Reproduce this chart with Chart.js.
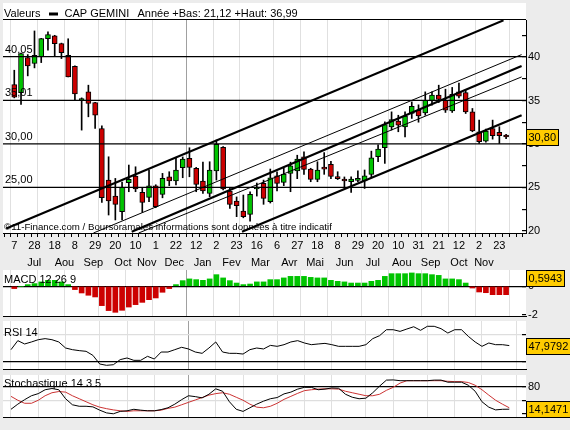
<!DOCTYPE html>
<html>
<head>
<meta charset="utf-8">
<script src="https://cdn.jsdelivr.net/npm/chart.js@4.4.1/dist/chart.umd.min.js"></script>
<style>
  html, body { margin: 0; padding: 0; background: #ececec; }
  #wrap { position: relative; width: 570px; height: 430px; }
  canvas { position: absolute; left: 0; top: 0; }
</style>
</head>
<body>
<div id="wrap">
  <canvas id="main" width="570" height="430"></canvas>
  <canvas id="macd" width="570" height="430"></canvas>
  <canvas id="rsi" width="570" height="430"></canvas>
  <canvas id="stoch" width="570" height="430"></canvas>
</div>
<script>
// weekly candles, week 0 = 7 Jul 2008 ... week 73 = 30 Nov 2009
var opens  = [36.83,35.91,39.94,39.25,40.05,42.12,42.43,41.54,40.20,38.94,35.00,35.99,34.77,31.78,25.84,24.00,22.20,25.54,26.30,24.42,
              23.85,25.19,24.20,26.22,25.73,27.26,28.33,27.18,25.73,24.31,26.88,29.60,24.58,23.43,22.28,21.90,24.81,25.46,23.35,26.34,
              25.57,26.61,26.88,28.52,27.10,25.92,27.20,27.64,26.05,25.96,25.65,25.80,25.73,26.49,28.52,29.56,31.97,32.62,31.97,33.50,
              33.88,33.58,34.96,35.61,35.03,33.80,35.99,35.90,33.69,31.40,30.32,31.78,31.32,31.00];
var highs  = [38.48,40.45,40.28,43.00,42.15,42.90,42.50,41.60,42.10,39.00,35.30,36.76,34.80,32.08,28.52,26.03,25.60,27.57,27.37,24.90,
              26.99,25.30,26.61,26.80,28.33,28.50,29.56,27.30,27.90,27.95,30.44,29.70,24.90,23.90,24.12,24.50,25.50,25.84,27.11,26.80,
              27.20,27.90,28.70,29.10,27.20,27.95,29.00,28.00,26.80,26.20,26.20,26.90,27.00,29.17,29.90,32.54,33.69,33.30,33.69,34.84,
              34.50,35.99,35.99,36.76,36.30,36.50,36.99,36.20,34.08,32.74,31.70,32.74,31.98,31.10];
var lows   = [35.30,34.54,37.83,38.75,39.36,40.78,40.13,39.82,37.71,35.03,31.59,33.12,31.78,23.28,21.82,21.25,21.25,24.50,24.50,22.13,
              23.35,22.66,23.80,25.20,25.27,26.11,26.22,24.50,24.30,23.93,25.84,24.70,22.59,21.63,21.50,21.12,24.00,23.05,23.20,24.60,
              25.20,24.50,26.00,26.50,25.65,25.65,26.50,26.00,25.90,24.90,24.42,25.65,24.88,26.20,27.95,27.76,31.60,31.40,30.82,32.93,
              32.50,33.30,34.46,34.76,33.62,33.62,35.30,33.50,31.40,30.05,30.20,30.55,30.05,30.60];
var closes = [35.38,40.40,38.98,40.20,42.12,42.58,41.54,40.51,37.71,35.76,35.23,34.65,33.31,23.81,23.43,23.05,25.00,25.92,24.81,23.28,
              25.19,22.78,26.03,25.73,26.99,28.25,27.30,25.34,24.58,26.99,29.94,24.81,23.05,22.89,21.63,24.20,25.04,23.74,26.11,25.46,
              26.53,27.49,28.25,27.07,25.92,26.99,27.10,26.26,26.00,25.73,25.96,26.03,26.34,28.41,29.40,32.24,32.81,32.16,33.20,34.34,
              33.23,35.03,35.61,35.11,33.88,35.72,35.50,33.69,31.51,30.25,31.47,30.94,30.94,30.80];

var macd = [-0.16,0.00,0.12,0.19,0.31,0.42,0.42,0.31,0.12,-0.23,-0.47,-0.63,-0.75,-1.36,-1.71,-1.83,-1.69,-1.46,-1.29,-1.13,
            -0.94,-0.82,-0.42,-0.16,0.12,0.40,0.52,0.47,0.42,0.52,0.82,0.59,0.40,0.23,0.12,0.16,0.31,0.31,0.47,0.47,
            0.59,0.70,0.70,0.70,0.63,0.59,0.59,0.42,0.35,0.31,0.23,0.23,0.23,0.35,0.42,0.70,0.89,0.89,0.89,0.94,
            0.89,0.89,0.82,0.77,0.52,0.52,0.47,0.23,-0.12,-0.40,-0.45,-0.59,-0.59,-0.59];
var rsi = [43.3,53.6,49.8,52.1,54.7,55.9,54.7,52.1,45.2,43.3,42.2,41.4,36.8,26.9,25.4,26.1,31.9,33.8,31.1,31.1,
           35.7,32.6,40.6,40.6,43.3,46.0,44.1,40.6,39.1,45.2,52.1,40.6,39.1,39.1,38.3,43.3,45.2,44.1,48.2,47.1,
           49.0,52.1,53.6,50.9,49.0,49.8,50.5,49.0,47.1,47.1,47.1,47.1,49.0,55.9,59.3,66.1,66.1,64.2,66.9,69.5,
           65.4,70.0,70.0,67.3,62.3,66.1,66.1,58.5,52.1,47.1,50.9,49.0,49.0,47.98];
var stochK = [13.9,28.9,42.1,53.6,59.8,71.2,74.8,71.2,44.8,27.1,22.7,22.7,21.0,11.3,3.3,0.7,7.7,9.5,13.9,11.3,
              9.5,9.5,13.0,18.3,28.9,42.1,53.6,51.0,47.4,58.0,73.9,66.8,36.0,13.9,7.7,18.3,28.9,37.7,44.8,48.3,
              59.0,64.2,73.0,78.3,78.3,71.2,73.0,76.5,75.6,58.0,49.2,44.8,46.5,62.4,81.8,99.4,100,97.7,97.7,97.7,
              97.7,97.7,99.4,99.4,93.3,93.3,93.3,84.4,66.8,36.0,20.1,12.1,13.9,14.15];
var stochD = [51.8,40.4,31.5,31.5,40.4,53.6,62.4,65.9,64.2,53.6,44.8,36.0,27.1,20.1,15.7,12.1,9.5,7.7,9.5,9.5,
              9.5,9.5,11.3,16.6,20.1,27.1,34.2,41.2,48.3,55.4,59.8,62.4,58.0,49.2,40.4,28.9,20.1,18.3,22.7,31.5,
              43.0,51.8,60.6,68.6,71.2,73.0,73.9,73.9,73.0,66.8,62.4,58.0,53.6,53.6,58.0,69.5,78.3,90.6,97.7,97.7,
              97.7,97.7,97.7,97.7,95.9,95.0,95.0,92.4,84.4,71.2,55.4,40.4,28.9,18.3];

var lastMacd = 0.5943, lastRsi = 47.9792, lastStoch = 14.1471;

// axis labels
var dayWeeks  = [0,3,6,9,12,15,18,21,24,27,30,33,36,39,42,45,48,51,54,57,60,63,66,69,72];
var dayLabels = ['7','28','18','8','29','20','10','1','22','12','2','23','16','6','27','18','8','29','20','10','31','21','12','2','23'];
var monthPos    = [1.3,6,10.5,15.1,18.8,23.1,27.5,32,36.5,41,45,49.6,54,58.5,63,67.4,71.3];
var monthLabels = ['Jul','Aou','Sep','Oct','Nov','Dec','Jan','Fev','Mar','Avr','Mai','Jun','Jul','Aou','Sep','Oct','Nov'];
var monthStarts = [0,4,8,13,17,21,26,30,34,39,43,47,52,56,61,65,69,74];
var yearStart = 26;
var priceTicks = [20,22.5,25,27.5,30,32.5,35,37.5,40,42.5];

// support levels and trend channel lines (week, price)
var levels = [40.05, 35.01, 30.00, 25.00];
var levelLabels = ['40,05', '35,01', '30,00', '25,00'];
var trendLines = [
  [[-1.2, 20.27], [72.62, 44.22]],
  [[11.75, 19.75], [75.3, 40.28]],
  [[17.43, 19.90], [75.3, 38.97]],
  [[18.46, 19.75], [75.3, 37.71]],
  [[33.8, 19.90], [75.3, 33.31]]
];
var trendWidths = [2.2, 1, 2.2, 1, 2.2];

var X_MIN = -1.17, X_MAX = 75.45;
var GREEN = '#00c400', RED = '#cc0000', FONT = '11px "Liberation Sans", Arial, sans-serif';

Chart.defaults.font.family = '"Liberation Sans", Arial, sans-serif';
Chart.defaults.font.size = 11;
Chart.defaults.color = '#000';

var weekTicks = [];
for (var w = -1; w <= 75; w++) weekTicks.push(w);

function gridColor(c) {
  var v = c.tick ? c.tick.value : null;
  if (v === yearStart) return '#a0a0a0';
  return monthStarts.indexOf(v) >= 0 ? '#e0e0e0' : 'rgba(0,0,0,0)';
}

function xAxis(withLabels) {
  return {
    type: 'linear', min: X_MIN, max: X_MAX, position: 'bottom', weight: 0,
    afterBuildTicks: function (s) { s.ticks = weekTicks.map(function (v) { return { value: v }; }); },
    afterFit: function (s) { s.height = withLabels ? 18 : 0; },
    ticks: {
      display: withLabels, autoSkip: false, maxRotation: 0, padding: 2,
      callback: function (v) { var k = dayWeeks.indexOf(v); return k < 0 ? '' : dayLabels[k]; }
    },
    grid: { color: gridColor, tickColor: '#000', tickLength: 4, drawTicks: withLabels, lineWidth: 1 },
    border: { display: true, color: '#000', width: 1 }
  };
}

function yAxis(min, max, ticks, labelled, lineColor) {
  return {
    position: 'right', min: min, max: max,
    afterBuildTicks: function (s) { s.ticks = ticks.map(function (v) { return { value: v }; }); },
    afterFit: function (s) { s.width = 44; },
    ticks: { padding: 6, callback: function (v) { return labelled.indexOf(v) >= 0 ? String(v) : ''; } },
    grid: {
      drawOnChartArea: !!lineColor, tickLength: -4, tickColor: '#000', lineWidth: 1.2,
      color: function (c) { return lineColor && c.tick ? lineColor(c.tick.value) : 'rgba(0,0,0,0)'; }
    },
    border: { display: false }
  };
}

function points(arr) {
  return arr.map(function (v, i) { return { x: i, y: v }; });
}

// white panel, panel caption and yellow value box
var panelPlugin = {
  id: 'panel',
  beforeDraw: function (chart, args, o) {
    var a = chart.chartArea, c = chart.ctx, up = o.above || 0;
    c.save();
    c.fillStyle = '#fff';
    c.fillRect(a.left, a.top - up, a.right - a.left, a.bottom - a.top + up);
    c.restore();
  },
  afterDraw: function (chart, args, o) {
    var a = chart.chartArea, c = chart.ctx;
    c.save();
    c.font = FONT;
    c.fillStyle = '#000';
    if (o.title) c.fillText(o.title, a.left + 1, a.top + o.titleDy);
    if (o.main) {
      c.strokeStyle = '#000';
      c.lineWidth = 1.2;
      c.beginPath(); c.moveTo(a.left, a.top - 0.5); c.lineTo(a.right, a.top - 0.5); c.stroke();
      c.fillText('Valeurs', 4, 17);
      c.fillRect(49, 12.5, 9, 3);
      c.fillText('CAP GEMINI', 64.5, 17);
      c.fillText('Année +Bas: 21,12 +Haut: 36,99', 137.5, 17);
      var ys = chart.scales.y;
      levels.forEach(function (l, k) {
        c.fillText(levelLabels[k], a.left + 2, ys.getPixelForValue(l) - 4);
      });
      c.font = '9.7px "Liberation Sans", Arial, sans-serif';
      c.fillText('©11-Finance.com / Boursoramales informations sont données à titre indicatif', a.left + 1, a.bottom - 3);
      c.font = FONT;
    }
    if (o.boxValue !== undefined) {
      var y = Math.round(chart.scales.y.getPixelForValue(o.boxValue));
      var tw = c.measureText(o.boxText).width;
      var h = 17, w = Math.round(tw + 5);
      c.fillStyle = '#ffcc00';
      c.fillRect(a.right, y - 8, w, h);
      c.strokeStyle = '#000';
      c.lineWidth = 1;
      c.strokeRect(a.right + 0.5, y - 7.5, w - 1, h - 1);
      c.fillStyle = '#000';
      c.textBaseline = 'middle';
      c.fillText(o.boxText, a.right + 2.5, y + 1);
    }
    c.restore();
  }
};

window.onload = function () {
  var idx = opens.map(function (_, i) { return i; });

  var datasets = [];
  trendLines.forEach(function (t, k) {
    datasets.push({
      type: 'line', data: t.map(function (p) { return { x: p[0], y: p[1] }; }),
      borderColor: '#000', borderWidth: trendWidths[k], pointRadius: 0, clip: 0, order: 0,
      xAxisID: 'x', yAxisID: 'y'
    });
  });
  levels.forEach(function (l) {
    datasets.push({
      type: 'line', data: [{ x: X_MIN - 1, y: l }, { x: X_MAX + 1, y: l }],
      borderColor: '#000', borderWidth: 1.3, pointRadius: 0, clip: 0, order: 0,
      xAxisID: 'x', yAxisID: 'y'
    });
  });
  datasets.push({
    type: 'bar', order: 1, grouped: false, barThickness: 5, minBarLength: 2,
    data: idx.map(function (i) { return { x: i, y: [opens[i], closes[i]] }; }),
    backgroundColor: idx.map(function (i) { return closes[i] >= opens[i] ? GREEN : RED; }),
    borderColor: '#000', borderWidth: 1, borderSkipped: false,
    xAxisID: 'x', yAxisID: 'y'
  });
  datasets.push({
    type: 'bar', order: 2, grouped: false, barThickness: 1,
    data: idx.map(function (i) { return { x: i, y: [lows[i], highs[i]] }; }),
    backgroundColor: '#000', borderWidth: 0,
    xAxisID: 'x', yAxisID: 'y'
  });

  var mainY = yAxis(19.75, 44.26, priceTicks, [20, 25, 30, 35, 40], null);
  mainY.border = { display: true, color: '#000', width: 1 };

  new Chart(document.getElementById('main').getContext('2d'), {
    type: 'bar',
    data: { datasets: datasets },
    options: {
      responsive: false, animation: false, events: [],
      layout: { padding: { top: 20, left: 3, right: 0, bottom: 162 } },
      plugins: {
        legend: { display: false }, tooltip: { enabled: false },
        panel: { above: 17, main: true, boxValue: closes[closes.length - 1], boxText: '30,80' }
      },
      scales: {
        x: xAxis(true),
        xm: {
          type: 'linear', min: X_MIN, max: X_MAX, position: 'bottom', weight: 1,
          afterBuildTicks: function (s) { s.ticks = monthPos.map(function (v) { return { value: v }; }); },
          afterFit: function (s) { s.height = 17; },
          ticks: { autoSkip: false, maxRotation: 0, padding: 5, callback: function (v, i) { return monthLabels[i]; } },
          grid: { display: false, drawTicks: false },
          border: { display: false }
        },
        y: mainY
      }
    },
    plugins: [panelPlugin]
  });

  new Chart(document.getElementById('macd').getContext('2d'), {
    type: 'bar',
    data: {
      datasets: [{
        data: points(macd), barThickness: 5, grouped: false, borderWidth: 0,
        backgroundColor: macd.map(function (v) { return v >= 0 ? GREEN : RED; })
      }]
    },
    options: {
      responsive: false, animation: false, events: [],
      layout: { padding: { top: 270, left: 3, right: 0, bottom: 114 } },
      plugins: {
        legend: { display: false }, tooltip: { enabled: false },
        panel: { title: 'MACD 12 26 9', titleDy: 13, boxValue: lastMacd, boxText: '0,5943' }
      },
      scales: {
        x: xAxis(false),
        y: yAxis(-2.09, 1.148, [-2, -1, 0, 1], [0, -2], function (v) { return v === 0 ? '#000' : 'rgba(0,0,0,0)'; })
      }
    },
    plugins: [panelPlugin]
  });

  new Chart(document.getElementById('rsi').getContext('2d'), {
    type: 'line',
    data: {
      datasets: [{ data: points(rsi), borderColor: '#000', borderWidth: 1, pointRadius: 0, tension: 0 }]
    },
    options: {
      responsive: false, animation: false, events: [],
      layout: { padding: { top: 321, left: 3, right: 0, bottom: 61 } },
      plugins: {
        legend: { display: false }, tooltip: { enabled: false },
        panel: { title: 'RSI 14', titleDy: 14.5, boxValue: lastRsi, boxText: '47,9792' }
      },
      scales: {
        x: xAxis(false),
        y: yAxis(21.2, 76.06, [30, 40, 60, 70], [40], function (v) { return (v === 70 || v === 30) ? '#000' : '#dedede'; })
      }
    },
    plugins: [panelPlugin]
  });

  new Chart(document.getElementById('stoch').getContext('2d'), {
    type: 'line',
    data: {
      datasets: [
        { data: points(stochK), borderColor: '#000', borderWidth: 1, pointRadius: 0, tension: 0 },
        { data: points(stochD), borderColor: '#cc3333', borderWidth: 1, pointRadius: 0, tension: 0 }
      ]
    },
    options: {
      responsive: false, animation: false, events: [],
      layout: { padding: { top: 375, left: 3, right: 0, bottom: 8 } },
      plugins: {
        legend: { display: false }, tooltip: { enabled: false },
        panel: { title: 'Stochastique 14 3 5', titleDy: 12, boxValue: lastStoch, boxText: '14,1471' }
      },
      scales: {
        x: xAxis(false),
        y: yAxis(-9.9, 114.4, [0, 10, 20, 30, 40, 50, 60, 70, 80, 90, 100], [80, 20], function (v) {
          if (v === 80 || v === 20) return '#000';
          return (v === 60 || v === 40) ? '#dedede' : 'rgba(0,0,0,0)';
        })
      }
    },
    plugins: [panelPlugin]
  });
};
</script>
</body>
</html>
